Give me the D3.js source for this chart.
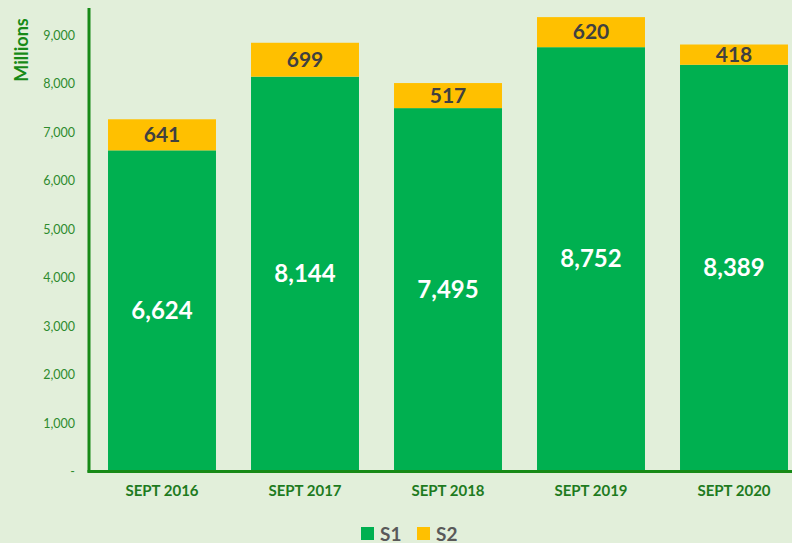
<!DOCTYPE html>
<html>
<head>
<meta charset="utf-8">
<script src="https://cdn.jsdelivr.net/npm/d3@7"></script>
<style>
  html, body { margin: 0; padding: 0; background: #e2efda; }
  svg { display: block; font-family: Lato, "Open Sans", sans-serif; }
</style>
</head>
<body>
<svg id="chart" width="792" height="543"></svg>
<script>
var categories = ['SEPT 2016', 'SEPT 2017', 'SEPT 2018', 'SEPT 2019', 'SEPT 2020'];
var s1Values = [6624, 8144, 7495, 8752, 8389];
var s2Values = [641, 699, 517, 620, 418];
var yTicks = [0, 1000, 2000, 3000, 4000, 5000, 6000, 7000, 8000, 9000];
var seriesNames = ['S1', 'S2'];

var svg = d3.select('#chart'),
    colors = { S1: '#00b050', S2: '#ffc000' },
    axisColor = '#178a17',
    margin = { left: 89, top: 8, bottom: 471.5 };

var y = d3.scaleLinear().domain([0, 9560]).range([margin.bottom, margin.top]);
var x = d3.scaleBand().domain(categories).range([90.5, 805.5]).paddingInner(0.245).paddingOuter(0.1225);

var rows = categories.map(function(c, i){
    return { cat: c, S1: s1Values[i], S2: s2Values[i] };
});
var stacked = d3.stack().keys(seriesNames)(rows);

// bars
svg.selectAll('g.series')
    .data(stacked)
    .enter().append('g')
    .attr('class', 'series')
    .attr('fill', function(d){ return colors[d.key]; })
    .selectAll('rect')
    .data(function(d){ return d; })
    .enter().append('rect')
    .attr('x', function(d){ return x(d.data.cat); })
    .attr('width', x.bandwidth())
    .attr('y', function(d){ return y(d[1]); })
    .attr('height', function(d){ return y(d[0]) - y(d[1]); });

// labels
var fmt = d3.format(',');
svg.selectAll('text.l1')
    .data(rows).enter().append('text')
    .attr('x', function(d){ return x(d.cat) + x.bandwidth() / 2; })
    .attr('y', function(d){ return y(d.S1 / 2) + 8; })
    .attr('text-anchor', 'middle')
    .attr('fill', '#ffffff')
    .attr('font-weight', 'bold')
    .attr('font-size', 24)
    .text(function(d){ return fmt(d.S1); });

svg.selectAll('text.l2')
    .data(rows).enter().append('text')
    .attr('x', function(d){ return x(d.cat) + x.bandwidth() / 2; })
    .attr('y', function(d){ return y(d.S1 + d.S2 / 2) + 7; })
    .attr('text-anchor', 'middle')
    .attr('fill', '#404040')
    .attr('font-weight', 'bold')
    .attr('font-size', 21)
    .text(function(d){ return fmt(d.S2); });

// y axis
var yAxis = svg.append('g')
    .attr('transform', 'translate(' + margin.left + ',0)')
    .call(d3.axisLeft(y).tickValues(yTicks).tickSize(0).tickPadding(14)
        .tickFormat(function(v){ return v === 0 ? '-' : fmt(v); }));
yAxis.select('.domain').remove();
yAxis.selectAll('text')
    .attr('fill', '#2e8b2e')
    .attr('font-size', 12.5)
    .attr('font-family', 'Lato, "Open Sans", sans-serif');

svg.append('line')
    .attr('x1', margin.left).attr('x2', margin.left)
    .attr('y1', margin.top).attr('y2', margin.bottom + 1)
    .attr('stroke', axisColor).attr('stroke-width', 3);

// x axis
var xAxis = svg.append('g')
    .attr('transform', 'translate(0,' + margin.bottom + ')')
    .call(d3.axisBottom(x).tickSize(0).tickPadding(14));
xAxis.select('.domain').remove();
xAxis.selectAll('text')
    .attr('fill', '#1e7b1e')
    .attr('font-weight', 'bold')
    .attr('font-size', 15)
    .attr('font-family', 'Lato, "Open Sans", sans-serif');

svg.append('line')
    .attr('x1', margin.left - 1.5).attr('x2', 792)
    .attr('y1', margin.bottom).attr('y2', margin.bottom)
    .attr('stroke', axisColor).attr('stroke-width', 3);

// axis title
svg.append('text')
    .attr('transform', 'translate(28,50) rotate(-90)')
    .attr('text-anchor', 'middle')
    .attr('fill', '#178a17')
    .attr('font-weight', 'bold')
    .attr('font-size', 18)
    .text('Millions');

// legend
var legend = svg.append('g').selectAll('g')
    .data(seriesNames).enter().append('g')
    .attr('transform', function(d, i){ return 'translate(' + (361 + i * 56) + ',527)'; });
legend.append('rect')
    .attr('width', 13).attr('height', 13)
    .attr('fill', function(d){ return colors[d]; });
legend.append('text')
    .attr('x', 19).attr('y', 13.5)
    .attr('fill', '#595959')
    .attr('font-weight', 'bold')
    .attr('font-size', 19)
    .text(function(d){ return d; });
</script>
</body>
</html>
